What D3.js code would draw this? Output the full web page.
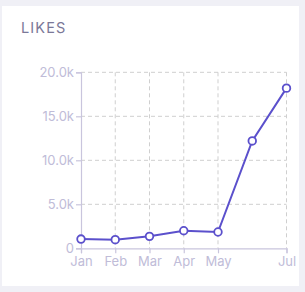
<!DOCTYPE html>
<html>
<head>
<meta charset="utf-8">
<script src="https://cdn.jsdelivr.net/npm/d3@7"></script>
<style>
  html, body { margin: 0; padding: 0; background: #f0f0f6; }
  #card { position: absolute; left: 2px; top: 6px; width: 297px; height: 280px; background: #fff; }
  svg { position: absolute; left: 0; top: 0; }
</style>
</head>
<body>
<div id="card"></div>
<div id="chart"></div>
<script>
// month labels and likes per month
const months = ["Jan", "Feb", "Mar", "Apr", "May", "Jun", "Jul"];
const likes = [1050, 980, 1360, 2000, 1850, 12200, 18200];
const xTicks = ["Jan", "Feb", "Mar", "Apr", "May", "Jul"];
const yTicks = [0, 5000, 10000, 15000, 20000];

const w = 305, h = 292;
const svg = d3.select("#chart").append("svg")
  .attr("width", w)
  .attr("height", h);

// title
svg.append("text")
  .attr("x", 21).attr("y", 32.5)
  .text("LIKES")
  .attr("font-family", "Inter, sans-serif")
  .attr("font-size", "14.5px")
  .attr("letter-spacing", "1.1px")
  .attr("fill", "#7b7898");

const x = d3.scalePoint().domain(months).range([81, 286.5]);
const y = d3.scaleLinear().domain([0, 20000]).range([248.3, 72.3]);

const fmt = d => d === 0 ? "0" : (d / 1000).toFixed(1) + "k";

//grid lines, dashed
const grid = svg.append("g");
grid.selectAll(".hg").data(yTicks.slice(1))
  .join("line")
  .attr("x1", 81).attr("x2", 286.5)
  .attr("y1", d => y(d)).attr("y2", d => y(d))
  .attr("stroke", "#cfcfcf").attr("stroke-dasharray", "4,3");
grid.selectAll(".vg").data(xTicks.slice(1))
  .join("line")
  .attr("x1", d => x(d)).attr("x2", d => x(d))
  .attr("y1", y(20000)).attr("y2", y(0))
  .attr("stroke", "#cfcfcf").attr("stroke-dasharray", "4,3");

const axisColor = "#c9c5dd";
const labelColor = "#c0bcd8";

// y axis
const yAxis = svg.append("g")
  .attr("transform", "translate(81,0)")
  .call(d3.axisLeft(y).tickValues(yTicks).tickFormat(fmt).tickSize(5).tickPadding(2));
// x axis
const xAxis = svg.append("g")
  .attr("transform", "translate(0," + y(0) + ")")
  .call(d3.axisBottom(x).tickValues(xTicks).tickSize(5).tickPadding(3));

[yAxis, xAxis].forEach(a => {
  a.selectAll("path, line").attr("stroke", axisColor).attr("stroke-width", 1.2);
  a.selectAll("text")
    .attr("fill", labelColor)
    .attr("font-family", "Inter, sans-serif")
    .attr("font-size", "13px");
});

// the line
const line = d3.line()
  .x((d, i) => x(months[i]))
  .y(d => y(d));

svg.append("path")
  .attr("d", line(likes))
  .attr("fill", "none")
  .attr("stroke", "#5b50cc")
  .attr("stroke-width", 2);

svg.selectAll(".pt").data(likes)
  .join("circle")
  .attr("cx", (d, i) => x(months[i]))
  .attr("cy", d => y(d))
  .attr("r", 3.8)
  .attr("fill", "#fff")
  .attr("stroke", "#5b50cc")
  .attr("stroke-width", 1.8);
</script>
</body>
</html>
